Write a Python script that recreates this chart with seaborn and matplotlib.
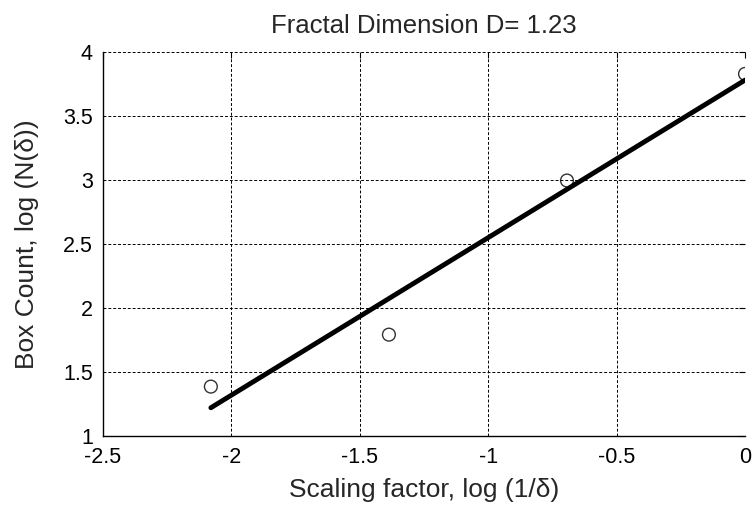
import matplotlib
matplotlib.use("Agg")
import matplotlib.pyplot as plt
import seaborn as sns
import numpy as np
import pandas as pd

# data (natural logs)
scale_x = [-2.079, -1.386, -0.693, 0.0]
count_y = [1.386, 1.792, 2.996, 3.829]
x_ticks = [-2.5, -2, -1.5, -1, -0.5, 0]
x_tick_labels = ["-2.5", "-2", "-1.5", "-1", "-0.5", "0"]
y_ticks = [1, 1.5, 2, 2.5, 3, 3.5, 4]
y_tick_labels = ["1", "1.5", "2", "2.5", "3", "3.5", "4"]
title_text = "Fractal Dimension D= 1.23"
x_label = "Scaling factor, log (1/δ)"
y_label = "Box Count, log (N(δ))"

df = pd.DataFrame({"x": scale_x, "y": count_y})

sns.set_style("white")
plt.rcParams["font.family"] = ["Liberation Sans", "DejaVu Sans"]

fig = plt.figure(figsize=(7.54, 5.08), dpi=100)
ax = fig.add_axes([0.1362, 0.1417, 0.8519, 0.7559])

sns.regplot(data=df, x="x", y="y", ax=ax, ci=None, truncate=True,
            scatter_kws=dict(marker="o", s=85, facecolors="none",
                             edgecolors="black", linewidths=1.0, zorder=3),
            line_kws=dict(color="black", lw=3.5, zorder=4))

ax.set_xlim(-2.5, 0)
ax.set_ylim(1, 4)
ax.set_xticks(x_ticks)
ax.set_xticklabels(x_tick_labels)
ax.set_yticks(y_ticks)
ax.set_yticklabels(y_tick_labels)
ax.grid(True, linestyle=(0, (3, 2)), color="black", linewidth=0.7)
ax.set_axisbelow(True)
for s in ["top", "right"]:
    ax.spines[s].set_visible(False)
for s in ["left", "bottom"]:
    ax.spines[s].set_color("black")
    ax.spines[s].set_linewidth(1.0)
ax.tick_params(direction="in", length=4, width=0.8, colors="black",
               labelsize=15.5, top=True, right=True)
ax.tick_params(axis="x", pad=8)
ax.tick_params(axis="y", pad=7)
ax.set_title(title_text, fontsize=18.5, pad=14)
ax.set_xlabel(x_label, fontsize=19, labelpad=7)
ax.set_ylabel(y_label, fontsize=19, labelpad=17)

fig.savefig("out.png", dpi=100, facecolor="white")
